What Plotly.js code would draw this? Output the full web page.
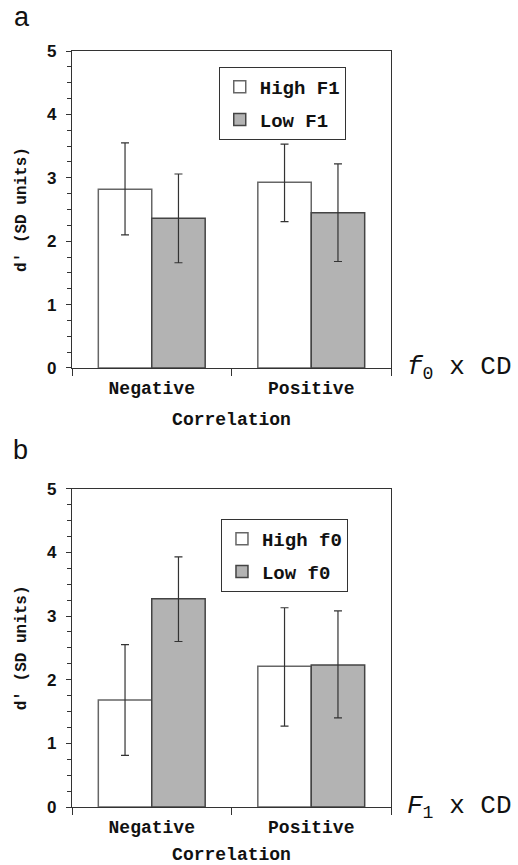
<!DOCTYPE html>
<html>
<head>
<meta charset="utf-8">
<script src="https://cdn.plot.ly/plotly-3.0.1.min.js"></script>
<style>html,body{margin:0;padding:0;background:#fff;}#chart{width:518px;height:865px;}</style>
</head>
<body>
<div id="chart"></div>
<script>
// ---- data ----
const categories = ["Negative", "Positive"];

// Panel a: f0 x CD
const aHighLabel = "High F1";
const aHighMean = [2.82, 2.93];
const aHighUpper = [3.55, 3.53];
const aHighLower = [2.10, 2.31];
const aLowLabel = "Low F1";
const aLowMean = [2.36, 2.45];
const aLowUpper = [3.06, 3.22];
const aLowLower = [1.66, 1.68];

// Panel b: F1 x CD
const bHighLabel = "High f0";
const bHighMean = [1.68, 2.21];
const bHighUpper = [2.55, 3.13];
const bHighLower = [0.81, 1.27];
const bLowLabel = "Low f0";
const bLowMean = [3.27, 2.23];
const bLowUpper = [3.93, 3.08];
const bLowLower = [2.60, 1.40];

const yTickVals = [0, 1, 2, 3, 4, 5];

// ---- helpers ----
const MONO = "Courier New, Liberation Mono, monospace";
const SANS = "Arial, Liberation Sans, sans-serif";
function diff(a, b) { return a.map((v, i) => +(v - b[i]).toFixed(3)); }
function bar(name, mean, upper, lower, fill, line, xa, ya, leg, grp) {
  return {
    type: "bar", name: name, x: categories, y: mean,
    xaxis: xa, yaxis: ya, legend: leg, legendgroup: grp,
    marker: { color: fill, line: { color: line, width: 1.5 } },
    error_y: { type: "data", symmetric: false, array: diff(upper, mean), arrayminus: diff(mean, lower),
               color: "#333", thickness: 1.2, width: 4 },
    hoverinfo: "skip"
  };
}

const traces = [
  bar(aHighLabel, aHighMean, aHighUpper, aHighLower, "#ffffff", "#666", "x", "y", "legend", "a1"),
  bar(aLowLabel, aLowMean, aLowUpper, aLowLower, "#b3b3b3", "#444", "x", "y", "legend", "a2"),
  bar(bHighLabel, bHighMean, bHighUpper, bHighLower, "#ffffff", "#666", "x2", "y2", "legend2", "b1"),
  bar(bLowLabel, bLowMean, bLowUpper, bLowLower, "#b3b3b3", "#444", "x2", "y2", "legend2", "b2")
];

function xax(anchor) {
  return {
    anchor: anchor, type: "category", range: [-0.5, 1.5],
    showline: true, linecolor: "#333", linewidth: 1.2, mirror: true,
    ticks: "outside", tickson: "boundaries", ticklen: 7, tickcolor: "#333", tickwidth: 1,
    ticklabelstandoff: 3,
    showgrid: false, zeroline: false,
    tickfont: { family: MONO, size: 18, color: "#111", weight: "bold" },
    title: { text: "<b>Correlation</b>", font: { family: MONO, size: 18, color: "#111" }, standoff: 14 }
  };
}
function yax(anchor, domain) {
  return {
    anchor: anchor, domain: domain, range: [0, 5], fixedrange: true,
    tickvals: yTickVals, ticks: "outside", ticklen: 5, tickcolor: "#333", ticklabelstandoff: 6,
    minor: { dtick: 0.25, ticks: "outside", ticklen: 4, tickcolor: "#333", showgrid: false },
    showline: true, linecolor: "#333", linewidth: 1.2, mirror: true,
    showgrid: false, zeroline: false,
    tickfont: { family: SANS, size: 17, color: "#111", weight: "bold" },
    title: { text: "<b>d' (SD units)</b>", font: { family: MONO, size: 16, color: "#111" }, standoff: 16 }
  };
}
function legendCfg(x, y) {
  return {
    x: x, y: y, xanchor: "left", yanchor: "top",
    bgcolor: "#fff", bordercolor: "#333", borderwidth: 1,
    font: { family: MONO, size: 19, color: "#111", weight: "bold" },
    tracegroupgap: 5, traceorder: "grouped"
  };
}

const layout = {
  width: 518, height: 865,
  margin: { l: 72, r: 127, t: 51, b: 58 },
  paper_bgcolor: "#fff", plot_bgcolor: "#fff",
  barmode: "group", bargap: 0.33, bargroupgap: 0,
  showlegend: true,
  xaxis: xax("y"),
  yaxis: yax("x", [0.5807, 1]),
  xaxis2: xax("y2"),
  yaxis2: yax("x2", [0, 0.421]),
  legend: legendCfg(0.46, 0.979),
  legend2: legendCfg(0.467, 0.381),
  annotations: [
    { text: "a", xref: "paper", yref: "paper", x: -0.188, y: 1.068, xanchor: "left", yanchor: "top",
      showarrow: false, font: { family: SANS, size: 27, color: "#111" } },
    { text: "b", xref: "paper", yref: "paper", x: -0.19, y: 0.495, xanchor: "left", yanchor: "top",
      showarrow: false, font: { family: SANS, size: 27, color: "#111" } },
    { text: "<i>f</i><sub>0</sub> x CD", xref: "paper", yref: "paper", x: 1.045, y: 0.5807, xanchor: "left", yanchor: "middle",
      showarrow: false, font: { family: MONO, size: 26, color: "#111" } },
    { text: "<i>F</i><sub>1</sub> x CD", xref: "paper", yref: "paper", x: 1.045, y: 0.0, xanchor: "left", yanchor: "middle",
      showarrow: false, font: { family: MONO, size: 26, color: "#111" } }
  ]
};

Plotly.newPlot("chart", traces, layout, { displayModeBar: false, staticPlot: true });
</script>
</body>
</html>
